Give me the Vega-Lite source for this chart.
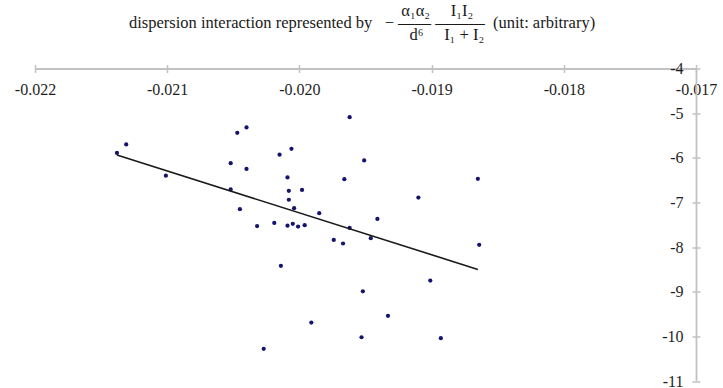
{
  "$schema": "https://vega.github.io/schema/vega-lite/v6.json",
  "width": 661,
  "height": 312.5,
  "autosize": {"type": "none"},
  "padding": {"left": 35, "top": 68.5, "right": 27, "bottom": 7},
  "background": "white",
  "config": {
    "view": {"stroke": null},
    "font": "Liberation Serif, DejaVu Serif, serif",
    "axis": {"grid": false, "domainColor": "#c2c2c2", "domainWidth": 1.8, "tickColor": "#c2c2c2", "tickWidth": 1.5, "tickSize": 4, "labelFont": "Liberation Serif, DejaVu Serif, serif", "labelFontSize": 16, "labelColor": "#1e1e1e"}
  },
  "title": {
    "text": [
      "\u200b\u2003\u2003\u2003\u2003\u2003\u2003\u2003\u2003\u2003\u2003\u2003\u2003\u2003\u2003\u2003\u2003\u00a0\u00a0\u03b1\u2081\u03b1\u2082\u2003\u00a0I\u2081I\u2082",
      "dispersion interaction represented by\u00a0\u00a0\u00a0\u2212\u00a0\u2014\u2014\u00a0\u2014\u2014\u2014\u00a0\u00a0(unit: arbitrary)",
      "\u200b\u2003\u2003\u2003\u2003\u2003\u2003\u2003\u2003\u2003\u2003\u2003\u2003\u2003\u2003\u2003\u2003\u2003d\u2076\u2003\u00a0I\u2081 + I\u2082"
    ],
    "anchor": "start",
    "align": "left",
    "frame": "group",
    "dx": 94,
    "offset": 17,
    "lineHeight": 12,
    "font": "Liberation Serif, DejaVu Serif, serif",
    "fontSize": 16.5,
    "fontWeight": "normal",
    "color": "#1a1a1a"
  },
  "datasets": {
    "pts": [
      {"x": -0.02138, "y": -5.89},
      {"x": -0.02131, "y": -5.70},
      {"x": -0.02101, "y": -6.40},
      {"x": -0.02047, "y": -5.44},
      {"x": -0.02040, "y": -5.32},
      {"x": -0.02052, "y": -6.12},
      {"x": -0.02040, "y": -6.25},
      {"x": -0.02052, "y": -6.71},
      {"x": -0.02045, "y": -7.15},
      {"x": -0.02032, "y": -7.53},
      {"x": -0.02015, "y": -5.93},
      {"x": -0.02006, "y": -5.80},
      {"x": -0.02009, "y": -6.44},
      {"x": -0.02008, "y": -6.74},
      {"x": -0.01998, "y": -6.72},
      {"x": -0.02008, "y": -6.94},
      {"x": -0.02004, "y": -7.13},
      {"x": -0.02019, "y": -7.46},
      {"x": -0.02009, "y": -7.52},
      {"x": -0.02005, "y": -7.48},
      {"x": -0.02001, "y": -7.54},
      {"x": -0.01996, "y": -7.51},
      {"x": -0.01985, "y": -7.24},
      {"x": -0.02014, "y": -8.42},
      {"x": -0.01962, "y": -5.09},
      {"x": -0.01951, "y": -6.06},
      {"x": -0.01966, "y": -6.48},
      {"x": -0.01974, "y": -7.84},
      {"x": -0.01967, "y": -7.92},
      {"x": -0.01962, "y": -7.57},
      {"x": -0.01946, "y": -7.80},
      {"x": -0.01941, "y": -7.37},
      {"x": -0.01910, "y": -6.89},
      {"x": -0.01865, "y": -6.47},
      {"x": -0.01864, "y": -7.95},
      {"x": -0.01901, "y": -8.75},
      {"x": -0.01952, "y": -8.99},
      {"x": -0.01933, "y": -9.54},
      {"x": -0.01991, "y": -9.69},
      {"x": -0.01953, "y": -10.02},
      {"x": -0.01893, "y": -10.04},
      {"x": -0.02027, "y": -10.28}
    ],
    "fit": [
      {"x": -0.02138, "y": -5.94},
      {"x": -0.01865, "y": -8.50}
    ]
  },
  "layer": [
    {
      "data": {"name": "pts"},
      "mark": {"type": "point", "filled": true, "size": 18, "color": "#14146e", "opacity": 1},
      "encoding": {
        "x": {"field": "x", "type": "quantitative", "scale": {"domain": [-0.022, -0.017], "nice": false, "zero": false},
          "axis": {"orient": "bottom", "offset": -312.5, "title": null, "values": [-0.022, -0.021, -0.020, -0.019, -0.018, -0.017], "labelExpr": "'-' + format(abs(datum.value), '.3f')", "labelFont": "Liberation Serif", "labelFontSize": 16, "labelFlush": false, "labelOverlap": false, "labelPadding": 9, "ticks": true}},
        "y": {"field": "y", "type": "quantitative", "scale": {"domain": [-11, -4], "nice": false, "zero": false},
          "axis": {"orient": "left", "offset": -661, "title": null, "values": [-11, -10, -9, -8, -7, -6, -5, -4], "labelExpr": "'-' + format(abs(datum.value), 'd')", "labelFont": "Liberation Serif", "labelFontSize": 16, "labelFlush": false, "labelOverlap": false, "labelPadding": 9}}
      }
    },
    {
      "data": {"name": "fit"},
      "mark": {"type": "line", "color": "#1a1a1a", "strokeWidth": 1.6},
      "encoding": {
        "x": {"field": "x", "type": "quantitative", "axis": {"orient": "top", "title": null, "labels": false, "domain": false, "values": [-0.022, -0.021, -0.020, -0.019, -0.018, -0.017]}},
        "y": {"field": "y", "type": "quantitative", "axis": {"orient": "right", "title": null, "labels": false, "domain": false, "values": [-11, -10, -9, -8, -7, -6, -5, -4]}}
      }
    }
  ],
  "resolve": {"axis": {"x": "independent", "y": "independent"}}
}
